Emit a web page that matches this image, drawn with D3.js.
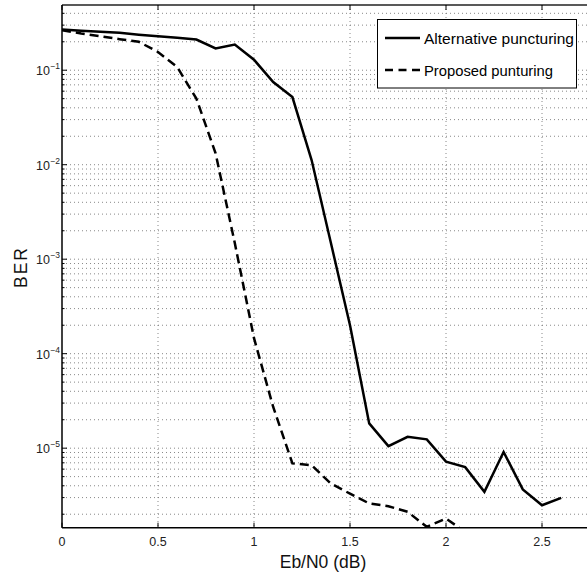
<!DOCTYPE html>
<html>
<head>
<meta charset="utf-8">
<script src="https://cdn.jsdelivr.net/npm/d3@7"></script>
<style>
  html, body { margin: 0; padding: 0; background: #fff; }
  svg { display: block; font-family: "Liberation Sans", Arial, sans-serif; }
</style>
</head>
<body>
<svg id="chart" width="587" height="576"></svg>
<script>
// ---- data ----
const ebn0 = [0, 0.1, 0.2, 0.3, 0.4, 0.5, 0.6, 0.7, 0.8, 0.9, 1.0, 1.1, 1.2, 1.3,
              1.4, 1.5, 1.6, 1.7, 1.8, 1.9, 2.0, 2.1, 2.2, 2.3, 2.4, 2.5, 2.6];
const alternativeBER = [0.270, 0.262, 0.256, 0.249, 0.238, 0.229, 0.221, 0.211, 0.170, 0.187,
                        0.129, 0.075, 0.052, 0.0112, 1.5e-3, 2.0e-4, 1.83e-5, 1.05e-5,
                        1.32e-5, 1.24e-5, 7.2e-6, 6.3e-6, 3.45e-6, 9.1e-6, 3.66e-6, 2.49e-6, 2.98e-6];
const proposedX = [0, 0.1, 0.2, 0.3, 0.4, 0.5, 0.6, 0.7, 0.8, 0.9, 1.0, 1.1, 1.2, 1.3,
                   1.4, 1.5, 1.6, 1.7, 1.8, 1.9, 2.0, 2.1];
const proposedBER = [0.265, 0.245, 0.229, 0.213, 0.200, 0.156, 0.108, 0.050, 0.0132, 1.48e-3,
                     1.46e-4, 2.73e-5, 6.9e-6, 6.6e-6, 4.23e-6, 3.3e-6, 2.6e-6, 2.43e-6,
                     2.12e-6, 1.47e-6, 1.8e-6, 1.3e-6];
const seriesNames = ["Alternative puncturing", "Proposed punturing"];
const xTicks = [0, 0.5, 1, 1.5, 2, 2.5];
const xTickLabels = ["0", "0.5", "1", "1.5", "2", "2.5"];
const yDecades = [-1, -2, -3, -4, -5];
const xDomain = [0, 3];
const yDomain = [1.44e-6, 0.49];
const xLabel = "Eb/N0 (dB)";
const yLabel = "BER";

// ---- layout ----
const L = 62, T = 5, B = 527.7;
const pxPerUnit = 192;
const svg = d3.select("#chart");
const x = d3.scaleLinear().domain(xDomain).range([L, L + pxPerUnit * (xDomain[1] - xDomain[0])]);
const y = d3.scaleLog().domain(yDomain).range([B, T]);
const R = x.range()[1];

svg.append("defs").append("clipPath").attr("id", "plotclip")
  .append("rect").attr("x", L).attr("y", T).attr("width", R - L).attr("height", B - T);

// grid values
const yGrid = [];
for (let e = -7; e <= 0; e++) {
  for (let m = 1; m <= 9; m++) {
    const v = m * Math.pow(10, e);
    if (v > yDomain[0] && v < yDomain[1]) yGrid.push(v);
  }
}
const gridColor = "#6a6a6a";
const g = svg.append("g");
g.selectAll("line.yg").data(yGrid).join("line")
  .attr("x1", L).attr("x2", R)
  .attr("y1", d => y(d)).attr("y2", d => y(d))
  .attr("stroke", gridColor).attr("stroke-width", 0.8)
  .attr("stroke-dasharray", "1,3");
g.selectAll("line.xg").data(xTicks.filter(d => d > 0)).join("line")
  .attr("x1", d => x(d)).attr("x2", d => x(d))
  .attr("y1", T).attr("y2", B)
  .attr("stroke", gridColor).attr("stroke-width", 0.8)
  .attr("stroke-dasharray", "1,3");

// axis lines
svg.append("line").attr("x1", L).attr("x2", R).attr("y1", T).attr("y2", T)
  .attr("stroke", "#222").attr("stroke-width", 1.3);
svg.append("line").attr("x1", L).attr("x2", R).attr("y1", B).attr("y2", B)
  .attr("stroke", "#000").attr("stroke-width", 1.5);
svg.append("line").attr("x1", L).attr("x2", L).attr("y1", T).attr("y2", B)
  .attr("stroke", "#000").attr("stroke-width", 1.5);

// x ticks (bottom and top, inward)
const ticks = svg.append("g").attr("stroke", "#000").attr("stroke-width", 1);
ticks.selectAll("line.xb").data(xTicks).join("line")
  .attr("x1", d => x(d)).attr("x2", d => x(d)).attr("y1", B).attr("y2", B - 5);
ticks.selectAll("line.xt").data(xTicks).join("line")
  .attr("x1", d => x(d)).attr("x2", d => x(d)).attr("y1", T).attr("y2", T + 5);
// y ticks
const majors = yDecades.map(e => Math.pow(10, e));
ticks.selectAll("line.ym").data(majors).join("line")
  .attr("x1", L).attr("x2", L + 5).attr("y1", d => y(d)).attr("y2", d => y(d));
ticks.selectAll("line.yn").data(yGrid.filter(v => !majors.some(m => Math.abs(m - v) / m < 1e-6))).join("line")
  .attr("x1", L).attr("x2", L + 2.5).attr("y1", d => y(d)).attr("y2", d => y(d));

// x tick labels
svg.selectAll("text.xl").data(xTicks).join("text")
  .attr("x", d => x(d)).attr("y", 546)
  .attr("text-anchor", "middle").attr("font-size", 12.5).attr("fill", "#222")
  .text((d, i) => xTickLabels[i]);

// y tick labels
yDecades.forEach(e => {
  const t = svg.append("text").attr("x", 36).attr("y", y(Math.pow(10, e)) + 5)
    .attr("font-size", 12.5).attr("fill", "#222");
  t.append("tspan").text("10");
  t.append("tspan").attr("font-size", 8.5).attr("dy", -6).attr("dx", 0.5).text("\u2212" + (-e));
});

// axis labels
svg.append("text").attr("x", 323).attr("y", 568).attr("text-anchor", "middle")
  .attr("font-size", 17.5).attr("fill", "#111").text(xLabel);
svg.append("text").attr("transform", `translate(27,${267}) rotate(-90)`)
  .attr("text-anchor", "middle").attr("font-size", 17.5).attr("letter-spacing", 2)
  .attr("fill", "#111").text(yLabel);

// curves
const line = d3.line().x(d => x(d[0])).y(d => y(d[1]));
const plot = svg.append("g").attr("clip-path", "url(#plotclip)");
plot.append("path").datum(ebn0.map((v, i) => [v, alternativeBER[i]]))
  .attr("d", line).attr("fill", "none").attr("stroke", "#000")
  .attr("stroke-width", 2.5).attr("stroke-linejoin", "miter");
plot.append("path").datum(proposedX.map((v, i) => [v, proposedBER[i]]))
  .attr("d", line).attr("fill", "none").attr("stroke", "#000")
  .attr("stroke-width", 2.5).attr("stroke-dasharray", "9,5");

// legend
const lg = svg.append("g");
lg.append("rect").attr("x", 377.5).attr("y", 19.5).attr("width", 199).attr("height", 68.5)
  .attr("fill", "#fff").attr("stroke", "#000").attr("stroke-width", 1);
lg.append("line").attr("x1", 385).attr("x2", 420).attr("y1", 38).attr("y2", 38)
  .attr("stroke", "#000").attr("stroke-width", 2.5);
lg.append("line").attr("x1", 385).attr("x2", 420).attr("y1", 70).attr("y2", 70)
  .attr("stroke", "#000").attr("stroke-width", 2.5).attr("stroke-dasharray", "8,5.5");
lg.append("text").attr("x", 424).attr("y", 43.5).attr("font-size", 14.5).attr("fill", "#000")
  .attr("textLength", 150).attr("lengthAdjust", "spacingAndGlyphs").text(seriesNames[0]);
lg.append("text").attr("x", 424).attr("y", 75.5).attr("font-size", 14.5).attr("fill", "#000")
  .attr("textLength", 129).attr("lengthAdjust", "spacingAndGlyphs").text(seriesNames[1]);
</script>
</body>
</html>
